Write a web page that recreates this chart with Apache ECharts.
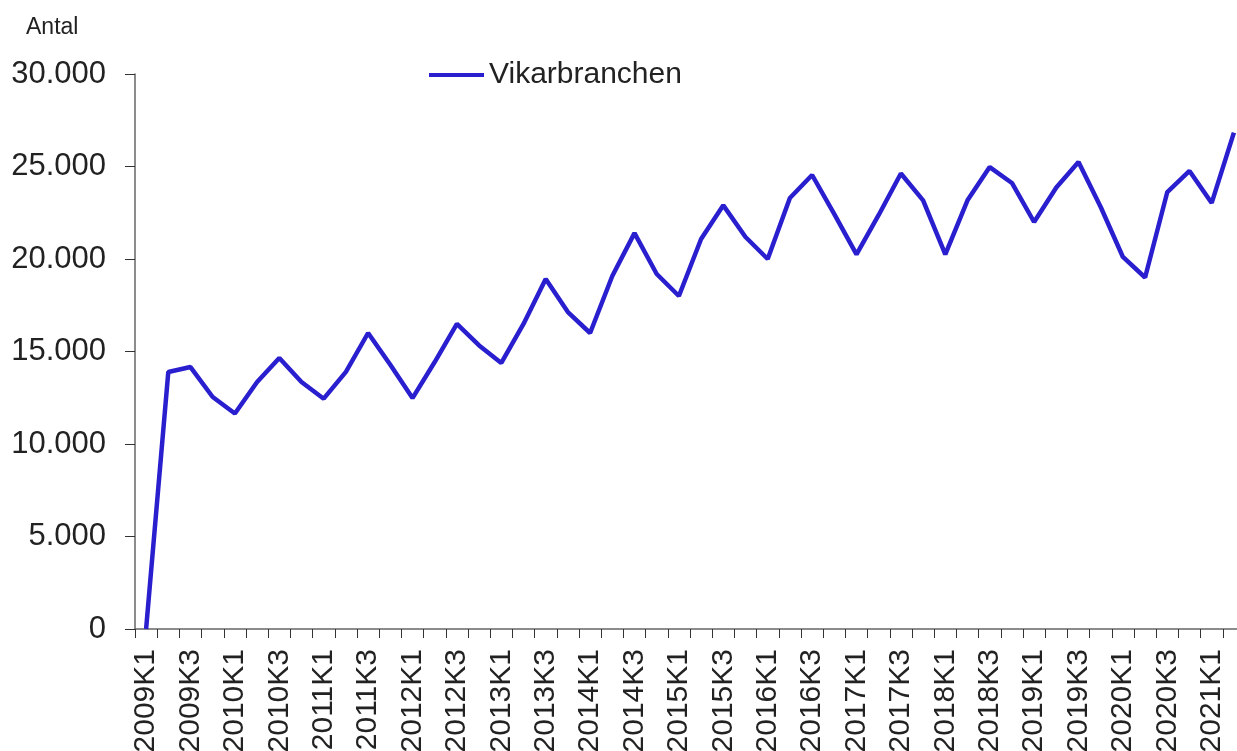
<!DOCTYPE html>
<html>
<head>
<meta charset="utf-8">
<script src="https://cdn.jsdelivr.net/npm/echarts@6/dist/echarts.min.js"></script>
<style>
    html, body { margin: 0; padding: 0; background: #fff; }
    #chart { width: 1237px; height: 751px; }
</style>
</head>
<body>
<div id="chart"></div>
<script>
var years = [2009, 2010, 2011, 2012, 2013, 2014, 2015, 2016, 2017, 2018, 2019, 2020, 2021];
var quarters = ['K1', 'K2', 'K3', 'K4'];

// antal beskæftigede i vikarbranchen, 2009K1 - 2021K2
var values = [
    0, 13890, 14160, 12540,
    11650, 13350, 14650, 13350,
    12450, 13900, 16000, 14280,
    12480, 14430, 16490, 15330,
    14380, 16490, 18920, 17130,
    16000, 19080, 21400, 19190,
    18000, 21080, 22900, 21190,
    20000, 23300, 24540, 22430,
    20250, 22380, 24620, 23170,
    20250, 23170, 24970, 24110,
    22000, 23860, 25240, 22810,
    20110, 19000, 23620, 24760,
    23030, 26830
];

var categories = [];
for (var i = 0; i < values.length; i++) {
    categories.push(years[Math.floor(i / 4)] + quarters[i % 4]);
}

var yTicks = { min: 0, max: 30000, interval: 5000 };

initChart();

function fmt(v) {
    return String(v).replace(/\B(?=(\d{3})+(?!\d))/g, '.');
}

function initChart() {
    var chart = echarts.init(document.getElementById('chart'));
    var font = 'Liberation Sans, Arial, sans-serif';
    var lineColor = '#2a1fcf';
    var option = {
        animation: false,
        textStyle: { fontFamily: font },
        title: {
            text: 'Antal',
            left: 21,
            top: 11,
            textStyle: { fontSize: 23, fontWeight: 'normal', color: '#222', fontFamily: font }
        },
        legend: {
            data: [{ name: 'Vikarbranchen', icon: 'rect' }],
            left: 424,
            top: 55,
            itemWidth: 55,
            itemHeight: 4,
            itemGap: 5,
            textStyle: { fontSize: 30, color: '#222', fontFamily: font, padding: [0, 0, 0, 0] }
        },
        grid: {
            left: 135,
            right: -8,
            top: 74,
            bottom: 122,
            containLabel: false,
            outerBoundsMode: 'none'
        },
        xAxis: {
            type: 'category',
            data: categories,
            boundaryGap: true,
            axisLine: { lineStyle: { color: '#666', width: 1.5 } },
            axisTick: { show: true, interval: 0, length: 9, lineStyle: { color: '#333' } },
            axisLabel: {
                interval: 1,
                rotate: 90,
                margin: 20,
                fontSize: 30,
                color: '#222',
                fontFamily: font
            }
        },
        yAxis: {
            type: 'value',
            min: yTicks.min,
            max: yTicks.max,
            interval: yTicks.interval,
            splitLine: { show: false },
            axisLine: { show: true, lineStyle: { color: '#666', width: 1.5 } },
            axisTick: { show: true, length: 10, lineStyle: { color: '#333' } },
            axisLabel: {
                margin: 29,
                fontSize: 31,
                color: '#222',
                fontFamily: font,
                formatter: function (v) { return fmt(v); }
            }
        },
        series: [{
            name: 'Vikarbranchen',
            type: 'line',
            data: values,
            symbol: 'none',
            showSymbol: false,
            lineStyle: { color: lineColor, width: 4.5 },
            itemStyle: { color: lineColor }
        }]
    };
    chart.setOption(option);
}
</script>
</body>
</html>
